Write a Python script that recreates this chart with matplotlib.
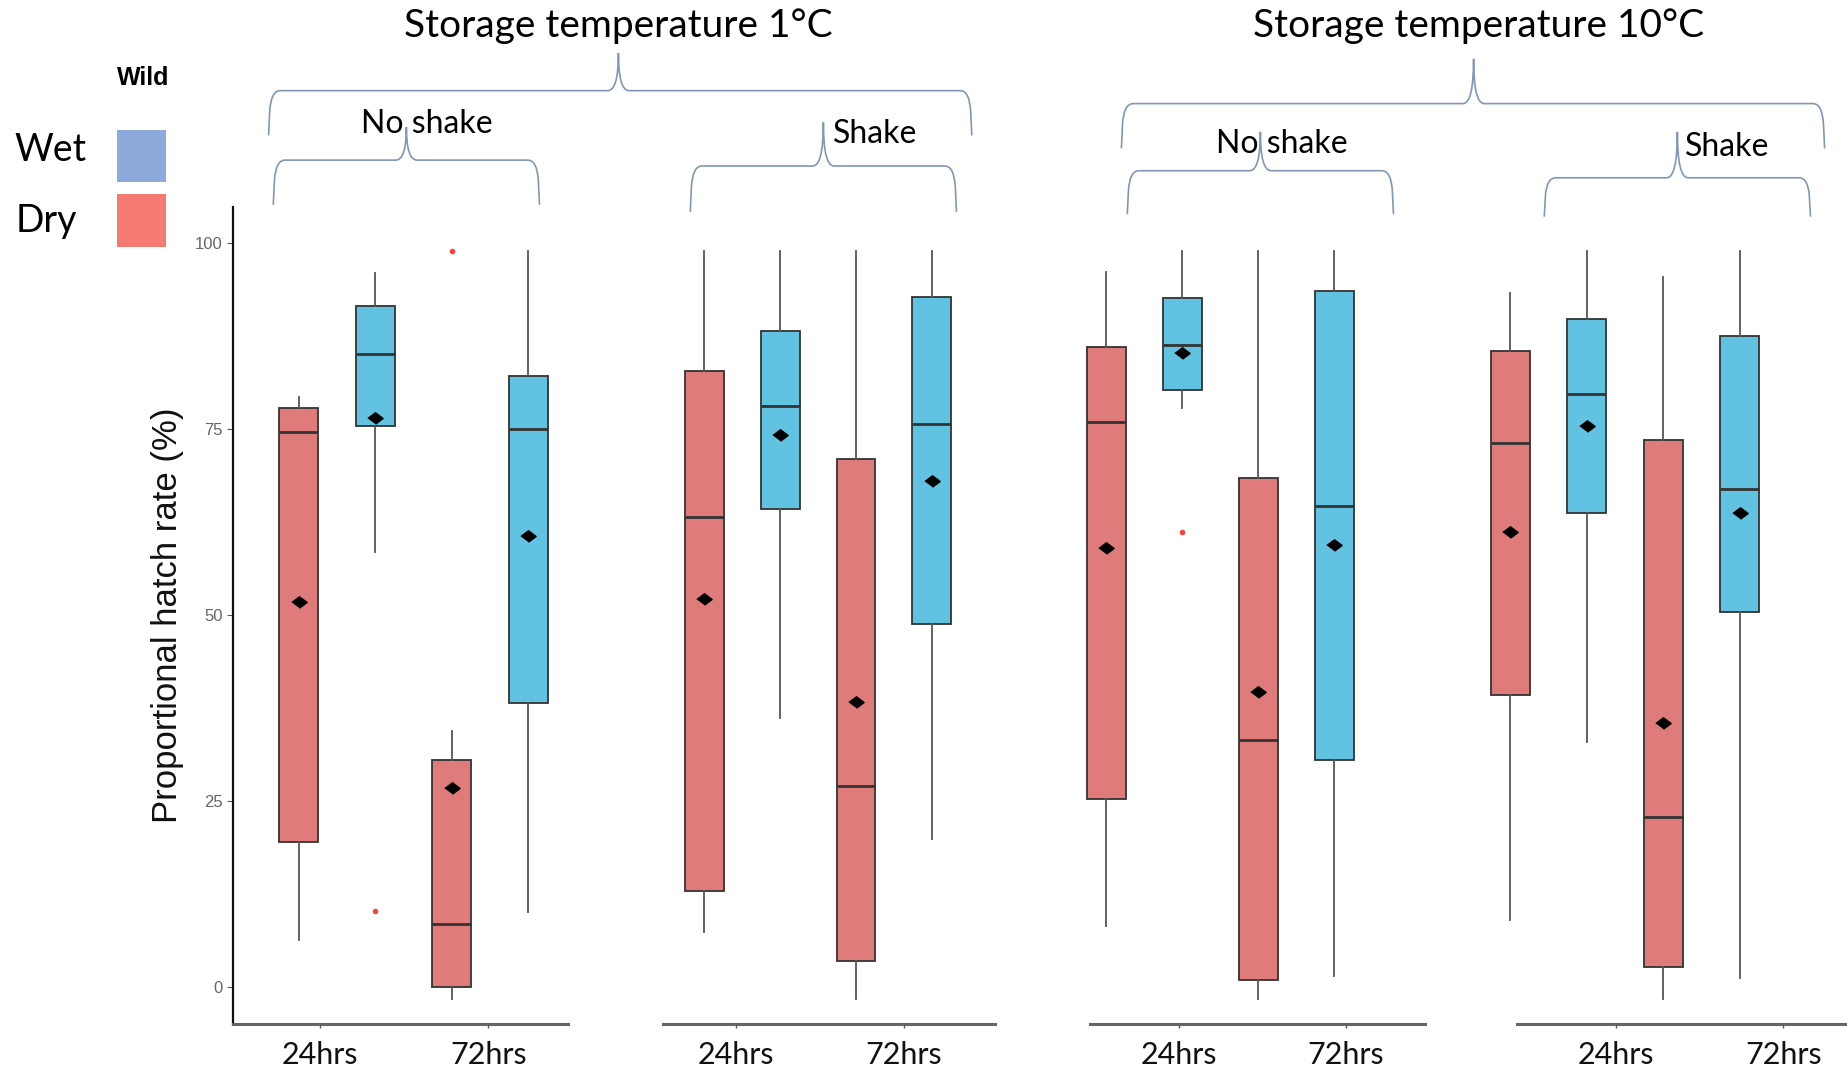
import numpy as np
import matplotlib.pyplot as plt
from matplotlib.path import Path
from matplotlib.patches import PathPatch, Rectangle

# --- DATA ---
# column order inside every panel
GROUPS = ['Dry 24hrs', 'Wet 24hrs', 'Dry 72hrs', 'Wet 72hrs']
PANELS = ['1C no shake', '1C shake', '10C no shake', '10C shake']
TIME_LABELS = ['24hrs', '72hrs']

# one row per panel, one column per group (hatch rate %)
whis_hi = [[79.3, 95.9, 34.3, 98.9],
           [98.9, 98.9, 98.9, 98.9],
           [96.0, 98.9, 98.9, 98.9],
           [93.2, 98.9, 95.4, 98.9]]
q3 = [[77.8, 91.5, 30.5, 82.1],
      [82.8, 88.1, 70.9, 92.7],
      [85.9, 92.6, 68.4, 93.5],
      [85.4, 89.7, 73.4, 87.5]]
medians = [[74.5, 85.0, 8.4, 75.0],
           [63.1, 78.0, 26.9, 75.6],
           [75.9, 86.2, 33.2, 64.6],
           [73.1, 79.7, 22.8, 66.9]]
q1 = [[19.5, 75.3, 0.0, 38.1],
      [12.8, 64.2, 3.5, 48.7],
      [25.2, 80.2, 0.9, 30.4],
      [39.2, 63.6, 2.7, 50.3]]
whis_lo = [[6.3, 58.4, -1.6, 10.0],
           [7.3, 36.1, -1.6, 19.9],
           [8.1, 77.8, -1.6, 1.4],
           [9.0, 32.9, -1.6, 1.1]]
means = [[51.7, 76.4, 26.7, 60.6],
         [52.1, 74.1, 38.3, 67.9],
         [59.0, 85.1, 39.6, 59.3],
         [61.1, 75.3, 35.4, 63.6]]
outliers = [[[], [10.1], [98.9], []],
            [[], [], [], []],
            [[], [61.1], [], []],
            [[], [], [], []]]

# --- STYLE / LAYOUT ---
DRY_FILL = '#E07B7B'
WET_FILL = '#62C2E2'
FILLS = [DRY_FILL, WET_FILL, DRY_FILL, WET_FILL]
BRACE_COL = '#8097B8'
W, H = 1568, 908          # annotation grid

# axis line extents (in annotation grid units) and x-limits of each panel
panel_x = [(198, 482), (563, 845), (925, 1210), (1288, 1568)]
panel_xlim = [(0.14, 4.52), (0.455, 4.84), (0.78, 5.2), (1.09, 5.4)]
label_pos = [(1.28, 3.48), (1.42, 3.63), (1.96, 4.15), (2.38, 4.57)]
AX_BOTTOM, AX_TOP = 870, 176
YLIM = (-5.06, 104.75)

TXT = 'Lato'

fig = plt.figure(figsize=(18.47, 10.69), dpi=100)

for p in range(4):
    x0, x1 = panel_x[p]
    ax = fig.add_axes([x0 / W, 1 - AX_BOTTOM / H, (x1 - x0) / W, (AX_BOTTOM - AX_TOP) / H])
    stats = []
    for g in range(4):
        stats.append(dict(med=medians[p][g], q1=q1[p][g], q3=q3[p][g],
                          whislo=whis_lo[p][g], whishi=whis_hi[p][g],
                          mean=means[p][g], fliers=outliers[p][g], label=GROUPS[g]))
    bp = ax.bxp(stats, positions=[1, 2, 3, 4], widths=0.51, patch_artist=True,
                showmeans=True, showcaps=False,
                boxprops=dict(edgecolor='#333333', linewidth=1.3),
                medianprops=dict(color='#333333', linewidth=2.0),
                whiskerprops=dict(color='#555555', linewidth=1.3),
                meanprops=dict(marker=[(-1, 0), (0, 0.75), (1, 0), (0, -0.75)],
                               markerfacecolor='black', markeredgecolor='black',
                               markersize=11),
                flierprops=dict(marker='o', markerfacecolor='#FF4040',
                                markeredgecolor='none', markersize=4))
    for patch, col in zip(bp['boxes'], FILLS):
        patch.set_facecolor(col)
    # boxes may sit slightly past the start of the axis line
    for artists in bp.values():
        for a in artists:
            a.set_clip_on(False)

    ax.set_xlim(*panel_xlim[p])
    ax.set_ylim(*YLIM)
    ax.set_xticks(label_pos[p])
    ax.set_xticklabels(TIME_LABELS, fontsize=22, family=TXT, color='#111111')
    ax.tick_params(axis='x', length=3, width=1, color='#555555', pad=9)
    for s in ['top', 'right']:
        ax.spines[s].set_visible(False)
    ax.spines['bottom'].set_color('#666666')
    ax.spines['bottom'].set_linewidth(2.2)
    if p == 0:
        ax.set_yticks([0, 25, 50, 75, 100])
        ax.set_yticklabels(['0', '25', '50', '75', '100'], fontsize=12,
                           family='Liberation Sans', color='#666666')
        ax.tick_params(axis='y', length=4, width=0.8, color='#555555')
        ax.spines['left'].set_linewidth(1.6)
        ax.spines['left'].set_color('#111111')
        ax.set_ylabel('Proportional hatch rate (%)', fontsize=25, family='Liberation Sans',
                      color='#111111', labelpad=8)
    else:
        ax.spines['left'].set_visible(False)
        ax.set_yticks([])

# --- annotation layer: braces, headers, legend ---
ov = fig.add_axes([0, 0, 1, 1], zorder=5)
ov.set_xlim(0, W)
ov.set_ylim(H, 0)
ov.axis('off')
ov.patch.set_alpha(0)


def brace(x0, x1, y, y_end, xm, y_tip):
    mid_l = y + 0.45 * (y_end - y)
    verts = [(x0, y_end), (x0 + 1, mid_l), (x0 + 2, y), (x0 + 10, y),
             (xm - 9, y), (xm, y), (xm, y_tip),
             (xm, y), (xm + 9, y),
             (x1 - 10, y), (x1 - 2, y), (x1 - 1, mid_l), (x1, y_end)]
    codes = [Path.MOVETO, Path.LINETO, Path.CURVE3, Path.CURVE3,
             Path.LINETO, Path.CURVE3, Path.CURVE3,
             Path.CURVE3, Path.CURVE3,
             Path.LINETO, Path.CURVE3, Path.CURVE3, Path.LINETO]
    ov.add_patch(PathPatch(Path(verts, codes), fill=False, edgecolor=BRACE_COL,
                           linewidth=1.2))


brace(228, 825, 77, 115, 525, 45)
brace(232, 458, 136, 174, 345, 108)
brace(586, 812, 141, 180, 699, 104)
brace(952, 1549, 88, 126, 1251, 50)
brace(957, 1183, 145, 182, 1070, 112)
brace(1311, 1537, 151, 184, 1424, 112)

ov.text(525, 22, 'Storage temperature 1°C', ha='center', va='center', fontsize=28, family=TXT)
ov.text(1255, 22, 'Storage temperature 10°C', ha='center', va='center', fontsize=28, family=TXT)
ov.text(362, 105, 'No shake', ha='center', va='center', fontsize=23, family=TXT)
ov.text(743, 114, 'Shake', ha='center', va='center', fontsize=23, family=TXT)
ov.text(1088, 122, 'No shake', ha='center', va='center', fontsize=23, family=TXT)
ov.text(1466, 125, 'Shake', ha='center', va='center', fontsize=23, family=TXT)

ov.text(122, 66, 'Wild', ha='center', va='center', fontsize=18, fontweight='bold',
        family='Liberation Sans')
ov.text(43, 127, 'Wet', ha='center', va='center', fontsize=27, family=TXT)
ov.text(39, 188, 'Dry', ha='center', va='center', fontsize=27, family=TXT)
ov.add_patch(Rectangle((99, 110), 42, 45, facecolor='#8EA9DB', edgecolor='none'))
ov.add_patch(Rectangle((99, 165), 42, 45, facecolor='#F47A72', edgecolor='none'))

fig.savefig('out.png', dpi=100)
